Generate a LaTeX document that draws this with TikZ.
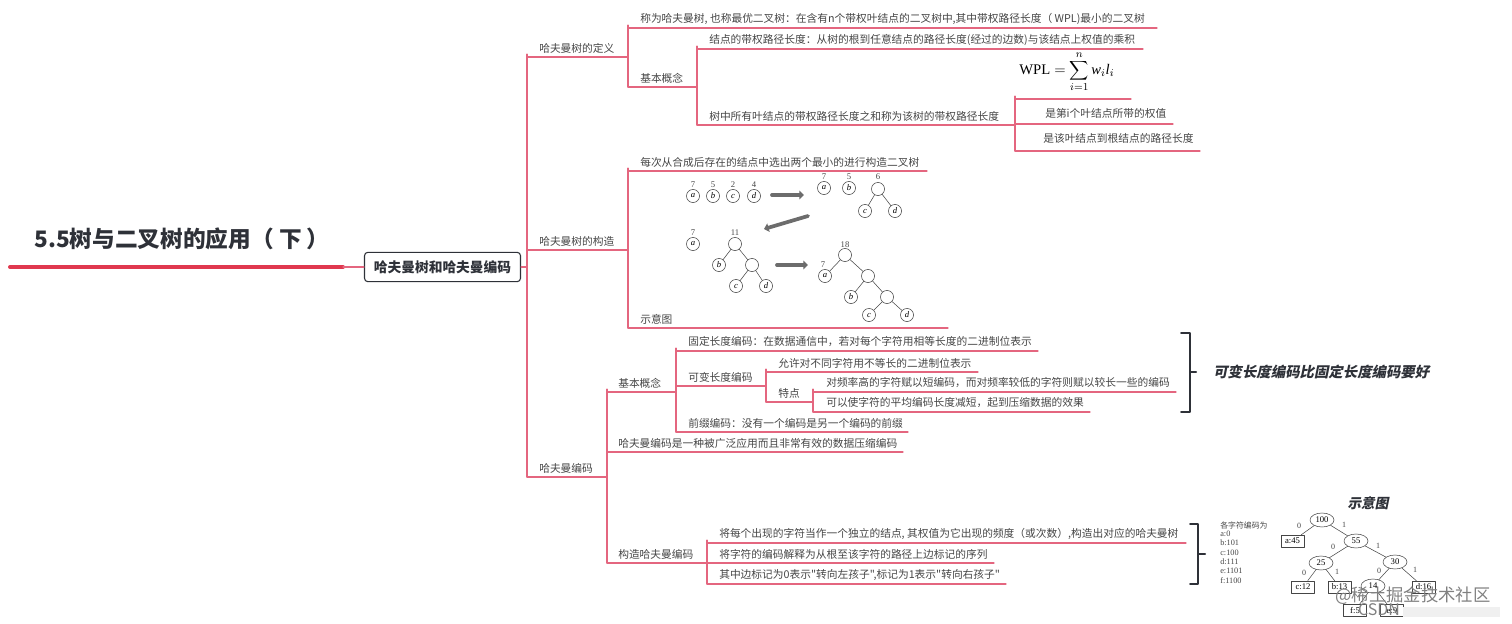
\documentclass[tikz,border=0pt]{standalone}
\usepackage{fontspec}
\setmainfont{Noto Sans CJK SC}[Ligatures=TeXOff]
\newfontfamily\serif{Liberation Serif}
\newfontfamily\cjkslant{Noto Sans CJK SC}[FakeSlant=0.2]
\usetikzlibrary{shapes.geometric,arrows.meta}
\definecolor{linered}{HTML}{E4667F}
\definecolor{rootred}{HTML}{E0384F}
\definecolor{inkgray}{HTML}{454545}
\definecolor{darkink}{HTML}{2E3138}
\tikzset{
	txt/.style={anchor=west,inner sep=0pt,text=inkgray,font=\fontsize{8.05}{10}\selectfont},
	branch/.style={draw=linered,line width=0.8pt,rounded corners=2.2pt},
	brace/.style={draw=darkink,line width=1.5pt},
	leaf/.style={circle,draw=inkgray,line width=0.4pt,minimum size=9.8pt,inner sep=0pt,font=\fontsize{6.5}{7}\serif\itshape},
	num/.style={inner sep=0pt,text=inkgray,font=\fontsize{6.5}{7}\serif},
	edge/.style={draw=inkgray,line width=0.4pt},
	fat/.style={draw=gray!85!black,line width=2.8pt,-{Triangle[length=3.5pt,width=6.5pt]}},
	oval/.style={ellipse,draw=inkgray,line width=0.4pt,minimum width=18pt,minimum height=10.5pt,inner sep=0pt,font=\fontsize{6.5}{7}\serif},
	rect/.style={rectangle,draw=inkgray,line width=0.4pt,minimum width=17.5pt,minimum height=9pt,inner sep=0pt,font=\fontsize{6.5}{7}\serif},
	bit/.style={inner sep=0pt,text=inkgray,font=\fontsize{6}{7}\serif},
	code/.style={anchor=west,inner sep=0pt,text=inkgray,font=\fontsize{6.2}{7}\serif}
}
% name, line from x to x at y, text x, text
\newcommand{\topic}[6]{
	\coordinate (#1-l) at (#2,#4);
	\coordinate (#1-r) at (#3,#4);
	\draw[branch] (#1-l)--(#1-r);
	\node[txt] (#1) at (#5,#4-9) {#6};
}
\begin{document}
\begin{tikzpicture}[x=0.75pt,y=-0.75pt,line join=round,line cap=round,>=stealth]
	\useasboundingbox (0,0) rectangle (1512,624);
	%root
	\coordinate (rootl) at (10,267);
	\coordinate (rootm) at (343,267);
	\coordinate (trunk) at (527,267);
	\node[inner sep=0pt,anchor=west,text=darkink,font=\fontsize{17}{20}\selectfont\bfseries] (title) at (34,239) {5.5树与二叉树的应用（ 下 ）};
	\node[draw=darkink,fill=white,line width=0.8pt,rounded corners=2.5pt,minimum width=117pt,minimum height=22pt,inner sep=0pt,text=darkink,font=\fontsize{10.3}{13}\selectfont\bfseries] (main) at (442.5,267) {哈夫曼树和哈夫曼编码};
	\draw[rootred,line width=3pt] (rootl)--(rootm);
	\draw[branch] (rootm)--(main.west);
	\draw[branch] (main.east)--(trunk);
	%definition
	\topic{def}{527}{628}{57}{539}{哈夫曼树的定义}
	\topic{defa}{628}{1157}{28}{640}{称为哈夫曼树, 也称最优二叉树：在含有n个带权叶结点的二叉树中,其中带权路径长度（ WPL)最小的二叉树}
	\topic{defb}{628}{697}{87}{640}{基本概念}
	\topic{wpla}{697}{1143}{49}{709}{结点的带权路径长度：从树的根到任意结点的路径长度(经过的边数)与该结点上权值的乘积}
	\topic{wplb}{697}{1015}{125}{709}{树中所有叶结点的带权路径长度之和称为该树的带权路径长度}
	\coordinate (fml-l) at (1015,99);
	\coordinate (fml-r) at (1131,99);
	\draw[branch] (fml-l)--(fml-r);
	\node[inner sep=0pt,anchor=west,font=\fontsize{11}{13}\selectfont] (fml) at (1019,72) {$\mbox{\serif WPL}=\displaystyle\sum_{i=1}^{n}\mbox{\serif\itshape w}_i\mbox{\serif\itshape l}_i$};
	\coordinate (wplc-l) at (1015,124);
	\coordinate (wplc-r) at (1173,124);
	\draw[branch] (wplc-l)--(wplc-r);
	\node[txt] (wplc) at (1045,113) {是第i个叶结点所带的权值};
	\coordinate (wpld-l) at (1015,151);
	\coordinate (wpld-r) at (1200,151);
	\draw[branch] (wpld-l)--(wpld-r);
	\node[txt] (wpld) at (1043,138) {是该叶结点到根结点的路径长度};
	%building
	\topic{bld}{527}{628}{250}{539}{哈夫曼树的构造}
	\topic{blda}{628}{927}{171}{640}{每次从合成后存在的结点中选出两个最小的进行构造二叉树}
	\topic{bldb}{628}{948}{328}{640}{示意图}
	%code
	\topic{cod}{527}{607}{477}{539}{哈夫曼编码}
	\topic{coda}{607}{676}{392}{618}{基本概念}
	\topic{codb}{607}{903}{452}{618}{哈夫曼编码是一种被广泛应用而且非常有效的数据压缩编码}
	\topic{codc}{607}{707}{563}{618}{构造哈夫曼编码}
	\topic{fixa}{676}{1038}{351}{688}{固定长度编码：在数据通信中，若对每个字符用相等长度的二进制位表示}
	\topic{fixb}{676}{766}{386}{688}{可变长度编码}
	\topic{fixc}{676}{908}{432}{688}{前缀编码：没有一个编码是另一个编码的前缀}
	\topic{vara}{766}{978}{372}{778}{允许对不同字符用不等长的二进制位表示}
	\topic{varb}{766}{813}{402}{778}{特点}
	\topic{fea}{813}{1176}{392}{826}{对频率高的字符赋以短编码，而对频率较低的字符则赋以较长一些的编码}
	\topic{feb}{813}{1090}{412}{826}{可以使字符的平均编码长度减短，起到压缩数据的效果}
	\topic{maka}{707}{1186}{543}{719}{将每个出现的字符当作一个独立的结点, 其权值为它出现的频度（或次数）,构造出对应的哈夫曼树}
	\topic{makb}{707}{994}{563}{719}{将字符的编码解释为从根至该字符的路径上边标记的序列}
	\topic{makc}{707}{1006}{584}{719}{其中边标记为0表示"转向左孩子",标记为1表示"转向右孩子"}
	%connectors
	\draw[branch] (trunk) |- (def-l);
	\draw[branch] (trunk) |- (bld-l);
	\draw[branch] (trunk) |- (cod-l);
	\draw[branch] (def-r) |- (defa-l);
	\draw[branch] (def-r) |- (defb-l);
	\draw[branch] (defb-r) |- (wpla-l);
	\draw[branch] (defb-r) |- (wplb-l);
	\draw[branch] (wplb-r) |- (fml-l);
	\draw[branch] (wplb-r) |- (wplc-l);
	\draw[branch] (wplb-r) |- (wpld-l);
	\draw[branch] (bld-r) |- (blda-l);
	\draw[branch] (bld-r) |- (bldb-l);
	\draw[branch] (cod-r) |- (coda-l);
	\draw[branch] (cod-r) |- (codb-l);
	\draw[branch] (cod-r) |- (codc-l);
	\draw[branch] (coda-r) |- (fixa-l);
	\draw[branch] (coda-r) |- (fixb-l);
	\draw[branch] (coda-r) |- (fixc-l);
	\draw[branch] (fixb-r) |- (vara-l);
	\draw[branch] (fixb-r) |- (varb-l);
	\draw[branch] (varb-r) |- (fea-l);
	\draw[branch] (varb-r) |- (feb-l);
	\draw[branch] (codc-r) |- (maka-l);
	\draw[branch] (codc-r) |- (makb-l);
	\draw[branch] (codc-r) |- (makc-l);
	%braces
	\coordinate (bra) at (1190,372);
	\coordinate (brb) at (1198,554);
	\draw[brace] (1181,333)--(1190,333)--(1190,412)--(1181,412);
	\draw[brace] (bra)--(1196,372);
	\draw[brace] (1190,524)--(1198,524)--(1198,584)--(1190,584);
	\draw[brace] (brb)--(1205,554);
	\node[inner sep=0pt,anchor=west,text=darkink,font=\fontsize{10.8}{12}\cjkslant\bfseries] (note) at (1213,372) {可变长度编码比固定长度编码要好};
	\node[inner sep=0pt,text=darkink,font=\fontsize{10.2}{12}\cjkslant\bfseries] (notea) at (1368,503) {示意图};
	%small trees
	\node[leaf] (a1) at (693,196) {a};
	\node[leaf] (b1) at (713,196) {b};
	\node[leaf] (c1) at (733,196) {c};
	\node[leaf] (d1) at (754,196) {d};
	\node[num] at (693,185) {7};
	\node[num] at (713,185) {5};
	\node[num] at (733,185) {2};
	\node[num] at (754,185) {4};
	\node[leaf] (a2) at (824,188) {a};
	\node[leaf] (b2) at (849,188) {b};
	\node[leaf] (r2) at (878,189) {};
	\node[leaf] (c2) at (865,211) {c};
	\node[leaf] (d2) at (895,211) {d};
	\node[num] at (824,177) {7};
	\node[num] at (849,177) {5};
	\node[num] at (878,177) {6};
	\draw[edge] (r2)--(c2);
	\draw[edge] (r2)--(d2);
	\node[leaf] (a3) at (693,244) {a};
	\node[leaf] (r3) at (735,244) {};
	\node[leaf] (b3) at (719,265) {b};
	\node[leaf] (s3) at (752,265) {};
	\node[leaf] (c3) at (736,286) {c};
	\node[leaf] (d3) at (766,286) {d};
	\node[num] at (693,233) {7};
	\node[num] at (735,233) {11};
	\draw[edge] (r3)--(b3);
	\draw[edge] (r3)--(s3);
	\draw[edge] (s3)--(c3);
	\draw[edge] (s3)--(d3);
	\node[leaf] (r4) at (845,255) {};
	\node[leaf] (a4) at (825,276) {a};
	\node[leaf] (s4) at (868,276) {};
	\node[leaf] (b4) at (851,297) {b};
	\node[leaf] (t4) at (887,297) {};
	\node[leaf] (c4) at (869,315) {c};
	\node[leaf] (d4) at (907,315) {d};
	\node[num] at (845,245) {18};
	\node[num] at (823,265) {7};
	\draw[edge] (r4)--(a4);
	\draw[edge] (r4)--(s4);
	\draw[edge] (s4)--(b4);
	\draw[edge] (s4)--(t4);
	\draw[edge] (t4)--(c4);
	\draw[edge] (t4)--(d4);
	\coordinate (fa) at (772,195);
	\coordinate (fb) at (804,195);
	\coordinate (fc) at (808,216);
	\coordinate (fd) at (764,229);
	\coordinate (fe) at (777,265);
	\coordinate (ff) at (808,265);
	\draw[fat] (fa)--(fb);
	\draw[fat] (fc)--(fd);
	\draw[fat] (fe)--(ff);
	%code table
	\node[code,font=\fontsize{5.9}{6}\selectfont] (tab) at (1220,525) {各字符编码为};
	\node[code] (ta) at (1220,534) {a:0};
	\node[code] (tb) at (1220,543) {b:101};
	\node[code] (tc) at (1220,553) {c:100};
	\node[code] (td) at (1220,562) {d:111};
	\node[code] (te) at (1220,571) {e:1101};
	\node[code] (tf) at (1220,581) {f:1100};
	%code tree
	\node[oval] (n100) at (1322,520) {100};
	\node[rect] (na) at (1292.5,541) {a:45};
	\node[oval] (n55) at (1356,541) {55};
	\node[oval] (n25) at (1321,563) {25};
	\node[oval] (n30) at (1395,562) {30};
	\node[rect] (nc) at (1303,587) {c:12};
	\node[rect] (nb) at (1339.5,587) {b:13};
	\node[oval] (n14) at (1373,586) {14};
	\node[rect] (nd) at (1423.5,587) {d:16};
	\node[rect] (nf) at (1355,610.5) {f:5};
	\node[rect] (ne) at (1392,610.5) {e:9};
	\draw[edge] (n100)--(na);
	\draw[edge] (n100)--(n55);
	\draw[edge] (n55)--(n25);
	\draw[edge] (n55)--(n30);
	\draw[edge] (n25)--(nc);
	\draw[edge] (n25)--(nb);
	\draw[edge] (n30)--(n14);
	\draw[edge] (n30)--(nd);
	\draw[edge] (n14)--(nf);
	\draw[edge] (n14)--(ne);
	\node[bit] at (1299,526) {0};
	\node[bit] at (1344,525) {1};
	\node[bit] at (1333,547) {0};
	\node[bit] at (1378,546) {1};
	\node[bit] at (1304,573) {0};
	\node[bit] at (1337,572) {1};
	\node[bit] at (1379,571) {0};
	\node[bit] at (1415,570) {1};
	%marks over the corner
	\fill[gray!12] (1403,607) rectangle (1500,617);
	\node[inner sep=0pt,text=gray,font=\fontsize{13}{15}\selectfont] (marka) at (1413,596) {@稀土掘金技术社区};
	\node[inner sep=0pt,text=gray,font=\fontsize{12}{14}\selectfont] (markb) at (1379,610) {CSDN};
\end{tikzpicture}
\end{document}
